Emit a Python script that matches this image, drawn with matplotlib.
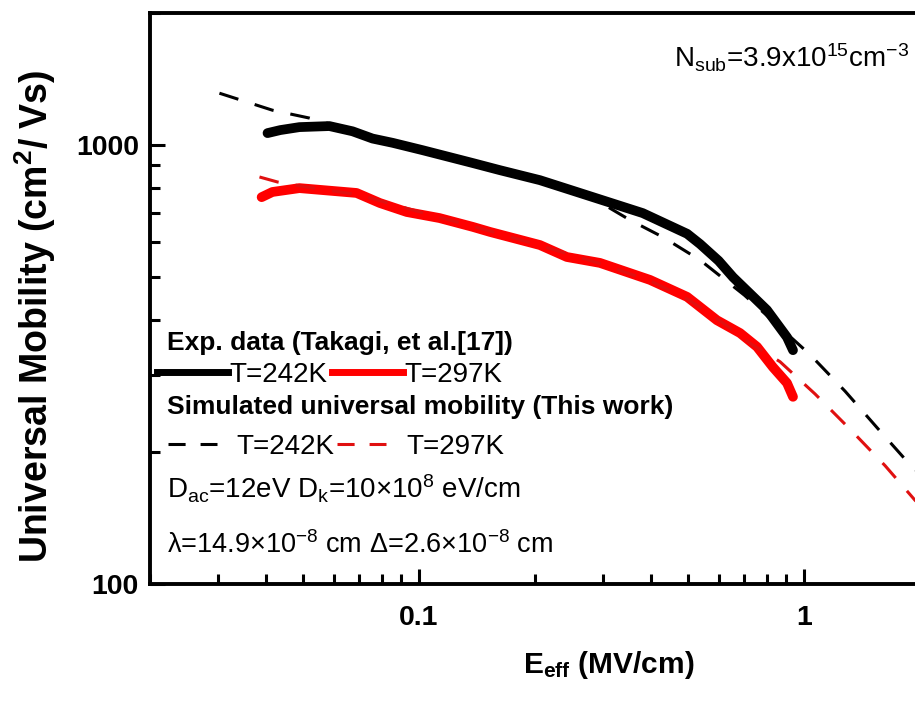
import matplotlib
matplotlib.use('Agg')
import matplotlib.pyplot as plt
from matplotlib.lines import Line2D
from matplotlib.ticker import LogLocator, NullFormatter

exp_x_242 = [0.0404, 0.0436, 0.0489, 0.0585, 0.0672, 0.0757, 0.0854, 0.102, 0.138, 0.162,
             0.206, 0.283, 0.381, 0.497, 0.537, 0.60, 0.654, 0.801, 0.903, 0.936]
exp_y_242 = [1065, 1082, 1099, 1105, 1075, 1035, 1012, 974, 910, 877,
             832, 761, 700, 628, 595, 545, 500, 421, 365, 341]

exp_x_297 = [0.0390, 0.0416, 0.0489, 0.0688, 0.0791, 0.0929, 0.113, 0.138, 0.153, 0.206,
             0.242, 0.295, 0.398, 0.497, 0.594, 0.682, 0.755, 0.830, 0.903, 0.936]
exp_y_297 = [761, 782, 798, 778, 738, 704, 682, 651, 634, 592,
             556, 539, 493, 451, 399, 373, 347, 312, 287, 267]

# simulated universal mobility (this work)
sim_x_242 = [0.0303, 0.0416, 0.052, 0.07, 0.1, 0.15, 0.2, 0.283, 0.353, 0.43,
             0.537, 0.7, 0.85, 1.037, 1.278, 1.548, 1.864, 2.0]
sim_y_242 = [1313, 1201, 1152, 1068, 975, 890, 835, 757, 675, 617,
             547, 455, 390, 333, 275, 227, 189, 178]

sim_x_297 = [0.0385, 0.0429, 0.05, 0.07, 0.1, 0.15, 0.2, 0.3, 0.4, 0.5,
             0.6, 0.73, 0.866, 1.068, 1.325, 1.624, 1.944, 2.0]
sim_y_297 = [846, 824, 805, 770, 705, 640, 595, 535, 490, 445,
             400, 352, 321, 271, 224, 186, 155, 152]

plt.rcParams['font.family'] = ['Liberation Sans', 'DejaVu Sans']
plt.rcParams['mathtext.fontset'] = 'custom'
plt.rcParams['mathtext.rm'] = 'Liberation Sans'
plt.rcParams['mathtext.it'] = 'Liberation Sans:italic'
plt.rcParams['mathtext.bf'] = 'Liberation Sans:bold'

fig = plt.figure(figsize=(9.15, 7.02), dpi=100)
ax = fig.add_axes([0.1639, 0.1681, 0.8415, 0.8134])

dash = (6.5, 5.6)
ax.plot(exp_x_242, exp_y_242, color='black', lw=7, solid_capstyle='round', solid_joinstyle='round')
ax.plot(exp_x_297, exp_y_297, color='red', lw=7, solid_capstyle='round', solid_joinstyle='round')
ax.plot(sim_x_242, sim_y_242, color='black', lw=2.2, dashes=dash)
ax.plot(sim_x_297, sim_y_297, color='#e01010', lw=2.2, dashes=dash)

ax.set_xscale('log')
ax.set_yscale('log')
ax.set_xlim(0.02, 2)
ax.set_ylim(100, 2000)

ax.set_xticks([0.1, 1], ['0.1', '1'])
ax.set_yticks([100, 1000], ['100', '1000'])
ax.xaxis.set_minor_locator(LogLocator(base=10, subs=range(2, 10)))
ax.yaxis.set_minor_locator(LogLocator(base=10, subs=range(2, 10)))
ax.xaxis.set_minor_formatter(NullFormatter())
ax.yaxis.set_minor_formatter(NullFormatter())
ax.tick_params(which='both', direction='in', top=False, right=False, width=2.2)
ax.tick_params(which='major', length=11)
ax.tick_params(which='minor', length=7)
ax.tick_params(axis='x', pad=15)
ax.tick_params(axis='y', pad=8)
for lab in ax.get_xticklabels() + ax.get_yticklabels():
    lab.set_weight('bold')
    lab.set_size(20.5)
for sp in ax.spines.values():
    sp.set_linewidth(2.8)

ax.set_xlabel(r'E$_{\mathbf{eff}}$ (MV/cm)', weight='bold', size=21.5, va='center')
ax.xaxis.set_label_coords(0.596, -0.142)
ax.set_ylabel(r'Universal Mobility (cm$^{\mathbf{2}}$/ Vs)', weight='bold', size=27, va='center')
ax.yaxis.set_label_coords(-0.149, 0.469)

# legend block
h_exp = [Line2D([], [], color='black', lw=5), Line2D([], [], color='red', lw=5)]
leg1 = ax.legend(h_exp, ['T=242K', 'T=297K'], ncol=2, loc='center left',
                 bbox_to_anchor=(0.009, 0.366), frameon=False, borderpad=0, borderaxespad=0,
                 handlelength=2.55, handletextpad=0.07, columnspacing=0.15, prop={'size': 20})
ax.add_artist(leg1)
h_sim = [Line2D([], [], color='black', lw=2.2, dashes=(5.6, 4.9)),
         Line2D([], [], color='#e01010', lw=2.2, dashes=(5.6, 4.9))]
ax.legend(h_sim, ['T=242K', 'T=297K'], ncol=2, loc='center left',
          bbox_to_anchor=(0.023, 0.240), frameon=False, borderpad=0, borderaxespad=0,
          handlelength=1.76, handletextpad=0.72, columnspacing=0.1, prop={'size': 20})

ax.text(0.0221, 0.4098, 'Exp. data (Takagi, et al.[17])', transform=ax.transAxes,
        fontsize=19, fontweight='bold', va='baseline')
ax.text(0.0221, 0.2977, 'Simulated universal mobility (This work)', transform=ax.transAxes,
        fontsize=19, fontweight='bold', va='baseline')
ax.text(0.0221, 0.1506, r'D$_{\mathrm{ac}}$=12eV D$_{\mathrm{k}}$=10$\times$10$^{8}$ eV/cm',
        transform=ax.transAxes, fontsize=20, va='baseline')
ax.text(0.0221, 0.0543, r'λ=14.9$\times$10$^{-8}$ cm Δ=2.6$\times$10$^{-8}$ cm',
        transform=ax.transAxes, fontsize=19.5, va='baseline')
ax.text(0.680, 0.905, r'N$_{\mathrm{sub}}$=3.9x10$^{15}$cm$^{-3}$', transform=ax.transAxes,
        fontsize=20, va='baseline')

fig.savefig('out.png', dpi=100)
